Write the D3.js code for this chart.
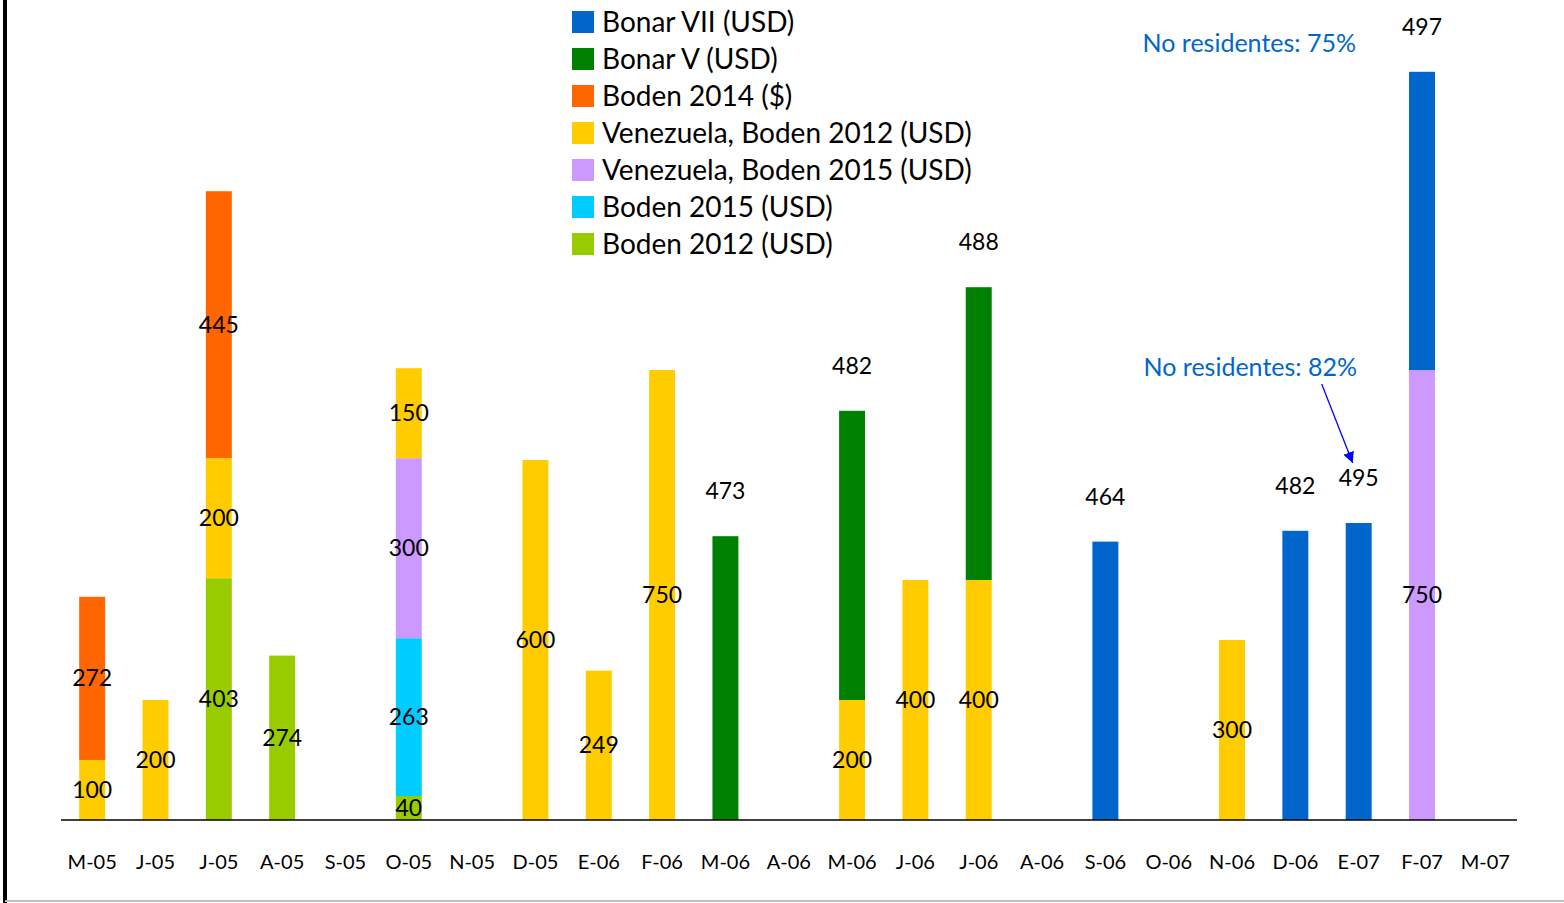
<!DOCTYPE html>
<html><head><meta charset="utf-8">
<script src="https://cdn.jsdelivr.net/npm/d3@7"></script>
<style>
html,body{margin:0;padding:0;background:#fff;}
svg{display:block;font-family:"Lato","Open Sans",sans-serif;}
</style></head>
<body>
<svg id="chart" width="1564" height="903"></svg>
<script>
const categories = ["M-05","J-05","J-05","A-05","S-05","O-05","N-05","D-05","E-06","F-06","M-06","A-06","M-06","J-06","J-06","A-06","S-06","O-06","N-06","D-06","E-07","F-07","M-07"];
// series (stack order bottom -> top)
const boden2012      = [0,0,403,274,0,40,0,0,0,0,0,0,0,0,0,0,0,0,0,0,0,0,0];
const boden2015      = [0,0,0,0,0,263,0,0,0,0,0,0,0,0,0,0,0,0,0,0,0,0,0];
const venBoden2015   = [0,0,0,0,0,300,0,0,0,0,0,0,0,0,0,0,0,0,0,0,0,750,0];
const venBoden2012   = [100,200,200,0,0,150,0,600,249,750,0,0,200,400,400,0,0,0,300,0,0,0,0];
const boden2014      = [272,0,445,0,0,0,0,0,0,0,0,0,0,0,0,0,0,0,0,0,0,0,0];
const bonarV         = [0,0,0,0,0,0,0,0,0,0,473,0,482,0,488,0,0,0,0,0,0,0,0];
const bonarVII       = [0,0,0,0,0,0,0,0,0,0,0,0,0,0,0,0,464,0,0,482,495,497,0];

const seriesNames  = ["Boden 2012 (USD)","Boden 2015 (USD)","Venezuela, Boden 2015 (USD)","Venezuela, Boden 2012 (USD)","Boden 2014 ($)","Bonar V (USD)","Bonar VII (USD)"];
const seriesValues = [boden2012,boden2015,venBoden2015,venBoden2012,boden2014,bonarV,bonarVII];
const seriesColors = ["#99CC00","#00CCFF","#CC99FF","#FFCC00","#FF6600","#008000","#0066CC"];
const labelAbove   = [false,false,false,false,false,true,true];
const legendOrder  = [6,5,4,3,2,1,0];
const annotations  = ["No residentes: 75%","No residentes: 82%"];

const svg = d3.select("#chart");
const W = 1564, H = 903;

// frame lines
svg.append("line").attr("x1",5).attr("x2",5).attr("y1",0).attr("y2",H).attr("stroke","#000").attr("stroke-width",4);
svg.append("line").attr("x1",5).attr("x2",W).attr("y1",901).attr("y2",901).attr("stroke","#c0c0c0").attr("stroke-width",2);

const x = d3.scaleBand().domain(d3.range(categories.length)).range([60.5,1517]).paddingInner(0.59).paddingOuter(0.295);
const y = d3.scaleLinear().domain([0,1000]).range([820,220]);

const rows = categories.map((c,i)=>{const o={i}; seriesNames.forEach((s,k)=>o[k]=seriesValues[k][i]); return o;});
const stack = d3.stack().keys(d3.range(seriesNames.length))(rows);

const g = svg.append("g");
stack.forEach((layer,k)=>{
  g.selectAll(null).data(layer.filter(d=>d[1]>d[0])).enter().append("rect")
    .attr("x",d=>x(d.data.i)).attr("width",x.bandwidth())
    .attr("y",d=>y(d[1])).attr("height",d=>y(d[0])-y(d[1]))
    .attr("fill",seriesColors[k]);
});

// baseline axis
const xAxis = d3.axisBottom(x).tickSize(0).tickPadding(35).tickFormat(i=>categories[i]);
const ax = svg.append("g").attr("transform","translate(0,820)").call(xAxis);
ax.select(".domain").attr("d","M61,0H1517").attr("stroke","#000").attr("stroke-width",1.5);
ax.selectAll("text").attr("font-size",20).attr("fill","#000").attr("font-family","Lato, sans-serif");

// value labels
stack.forEach((layer,k)=>{
  layer.filter(d=>d[1]>d[0]).forEach(d=>{
    const v = d[1]-d[0];
    const cx = x(d.data.i)+x.bandwidth()/2;
    const cy = labelAbove[k] ? y(d[1]) - 45 : (y(d[0])+y(d[1]))/2;
    g.append("text").attr("x",cx).attr("y",cy).attr("dy","0.35em")
      .attr("text-anchor","middle").attr("font-size",23).attr("fill","#000").text(v);
  });
});

// legend
const leg = svg.append("g").attr("transform","translate(572,22)");
legendOrder.forEach((k,j)=>{
  const r = leg.append("g").attr("transform",`translate(0,${j*37})`);
  r.append("rect").attr("x",0).attr("y",-11).attr("width",22).attr("height",22).attr("fill",seriesColors[k]);
  r.append("text").attr("x",30).attr("y",0).attr("dy","0.35em").attr("font-size",28).attr("fill","#000").text(seriesNames[k]);
});

// annotations
const iF07 = 21, iE07 = 20;
svg.append("text").attr("x",x(iF07)-53).attr("y",y(bonarVII[iF07]+venBoden2015[iF07]) - 29).attr("dy","0.35em")
  .attr("text-anchor","end").attr("font-size",25).attr("fill","#0066CC").text(annotations[0]);
svg.append("text").attr("x",x(iF07)-52).attr("y",y(venBoden2015[iF07]) - 3).attr("dy","0.35em")
  .attr("text-anchor","end").attr("font-size",25).attr("fill","#0066CC").text(annotations[1]);

svg.append("defs").append("marker").attr("id","arr").attr("viewBox","0 0 10 10").attr("refX",10).attr("refY",5)
  .attr("markerWidth",11).attr("markerHeight",11).attr("markerUnits","userSpaceOnUse").attr("orient","auto")
  .append("path").attr("d","M0,0L10,5L0,10z").attr("fill","#0000FF");
const ax0 = x(iE07)+x.bandwidth()/2 - 37, ay0 = y(venBoden2015[iF07]) + 14;
const ax1 = x(iE07)+x.bandwidth()/2 - 6, ay1 = y(bonarVII[iE07]) - 60;
svg.append("line").attr("x1",ax0).attr("y1",ay0).attr("x2",ax1).attr("y2",ay1)
  .attr("stroke","#0000FF").attr("stroke-width",1.3).attr("marker-end","url(#arr)");
</script>
</body></html>
